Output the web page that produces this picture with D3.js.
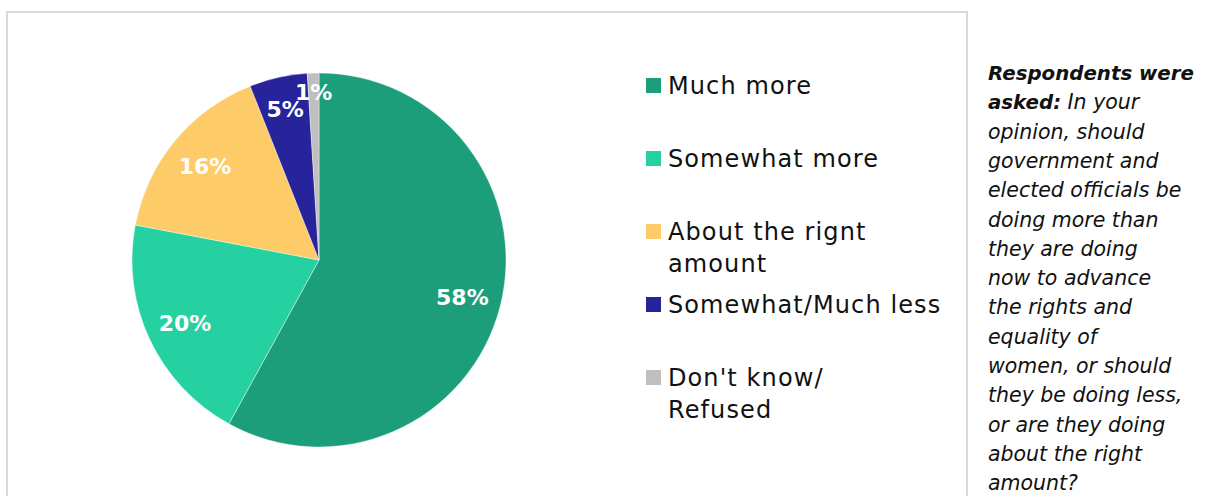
<!DOCTYPE html>
<html>
<head>
<meta charset="utf-8">
<script src="https://cdn.jsdelivr.net/npm/d3@7"></script>
<style>
  html, body { margin: 0; padding: 0; background: #fff; }
  svg { display: block; }
</style>
</head>
<body>
<svg id="chart" width="1220" height="496"></svg>
<script>
// ---- data ----
const categories = ["Much more", "Somewhat more", "About the rignt amount", "Somewhat/Much less", "Don't know/ Refused"];
const legendLines = [["Much more"], ["Somewhat more"], ["About the rignt", "amount"], ["Somewhat/Much less"], ["Don't know/", "Refused"]];
const values = [58, 20, 16, 5, 1];
const colors = ["#1c9e7b", "#25d1a0", "#fecb69", "#27239b", "#bfbfbf"];
const noteLines = [
  ["Respondents were", ""],
  ["asked:", " In your"],
  ["", "opinion, should"],
  ["", "government and"],
  ["", "elected officials be"],
  ["", "doing more than"],
  ["", "they are doing"],
  ["", "now to advance"],
  ["", "the rights and"],
  ["", "equality of"],
  ["", "women, or should"],
  ["", "they be doing less,"],
  ["", "or are they doing"],
  ["", "about the right"],
  ["", "amount?"]
];

const FONT = "'DejaVu Sans', 'Liberation Sans', sans-serif";
const svg = d3.select("#chart");

// frame
svg.append("rect")
  .attr("x", 7).attr("y", 12)
  .attr("width", 960).attr("height", 500)
  .attr("fill", "none")
  .attr("stroke", "#d9d9d9")
  .attr("stroke-width", 2);

// pie
const cx = 319, cy = 260, R = 187;
const pie = d3.pie().sort(null).value(d => d)(values);
const arc = d3.arc().innerRadius(0).outerRadius(R);
const g = svg.append("g").attr("transform", `translate(${cx},${cy})`);

g.selectAll("path.slice")
  .data(pie)
  .join("path")
  .attr("class", "slice")
  .attr("d", arc)
  .attr("fill", (d, i) => colors[i])
  .attr("stroke", "#ffffff")
  .attr("stroke-width", 0.4);

function labelRadius(v) {
  if (v < 3) return 168;
  if (v < 10) return 155;
  return 148;
}
g.selectAll("text.lbl")
  .data(pie)
  .join("text")
  .attr("class", "lbl")
  .attr("transform", d => {
    const r = labelRadius(d.data);
    const c = d3.arc().innerRadius(r).outerRadius(r).centroid(d);
    return `translate(${c[0]},${c[1]})`;
  })
  .attr("text-anchor", "middle")
  .attr("dy", "0.38em")
  .attr("fill", "#ffffff")
  .attr("font-family", FONT)
  .attr("font-weight", "bold")
  .attr("font-size", 22)
  .text(d => d.data + "%");

// legend
const legY = d3.scalePoint().domain(d3.range(categories.length)).range([94, 386]);
const leg = svg.append("g");
const items = leg.selectAll("g.item")
  .data(categories)
  .join("g")
  .attr("class", "item")
  .attr("transform", (d, i) => `translate(646,${legY(i)})`);
items.append("rect")
  .attr("x", 0).attr("y", -16)
  .attr("width", 15).attr("height", 15)
  .attr("fill", (d, i) => colors[i]);
items.each(function(d, i) {
  const t = d3.select(this).append("text")
    .attr("x", 22).attr("y", 0)
    .attr("font-family", FONT)
    .attr("font-size", 24)
    .attr("letter-spacing", 1.1)
    .attr("fill", "#111111");
  legendLines[i].forEach((ln, k) => {
    t.append("tspan").attr("x", 22).attr("y", k * 31.5).text(ln);
  });
});

// note text
const note = svg.append("text")
  .attr("font-family", FONT)
  .attr("font-size", 20.5)
  .attr("font-style", "italic")
  .attr("fill", "#111111");
noteLines.forEach((ln, k) => {
  const y = 80 + k * 29.3;
  if (ln[0]) {
    note.append("tspan").attr("x", 988).attr("y", y)
      .attr("font-weight", "bold").attr("font-size", 19.8).text(ln[0]);
    if (ln[1]) note.append("tspan").text(ln[1]);
  } else {
    note.append("tspan").attr("x", 988).attr("y", y).text(ln[1]);
  }
});
</script>
</body>
</html>
